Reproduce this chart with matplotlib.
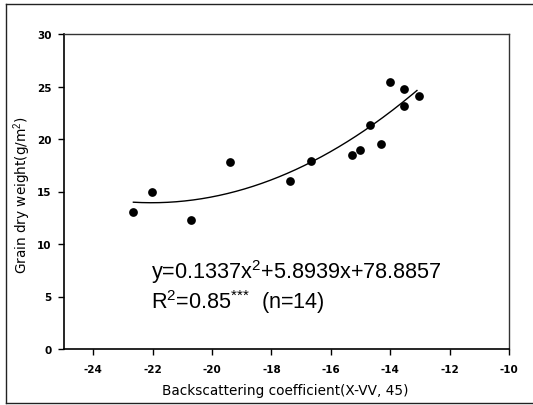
import matplotlib
matplotlib.use("Agg")
import matplotlib.pyplot as plt
import matplotlib.transforms as mtrans
import numpy as np
from matplotlib.lines import Line2D

plt.rcParams['font.family'] = ['Liberation Sans', 'DejaVu Sans']
plt.rcParams['mathtext.fontset'] = 'custom'
plt.rcParams['mathtext.rm'] = 'Liberation Sans'
plt.rcParams['mathtext.it'] = 'Liberation Sans'

# Data
backscatter = [-22.66, -22.03, -20.72, -19.40, -17.39, -16.66, -15.30,
               -15.01, -14.69, -14.30, -14.01, -13.53, -13.53, -13.02]
grain_weight = [13.06, 14.97, 12.30, 17.83, 16.02, 17.86, 18.47,
                18.94, 21.36, 19.54, 25.42, 24.73, 23.11, 24.06]

# Fitted quadratic reported in the chart
coef_a, coef_b, coef_c = 0.1337, 5.8939, 78.8857
fit_range = (-22.65, -13.1)

x_ticks = [-24, -22, -20, -18, -16, -14, -12, -10]
y_ticks = [0, 5, 10, 15, 20, 25, 30]

W, H = 533, 406
L, R, T, B = 63.6, 509.0, 35.0, 350.0
fig = plt.figure(figsize=(W / 100, H / 100), dpi=100)
ax = fig.add_axes([L / W, (H - B) / H, (R - L) / W, (B - T) / H])

ax.scatter(backscatter, grain_weight, s=6.3 ** 2, color='black', zorder=3, linewidths=0)
xf = np.linspace(fit_range[0], fit_range[1], 200)
ax.plot(xf, coef_a * xf ** 2 + coef_b * xf + coef_c, color='black', lw=1.0)

ax.set_xlim(-25, -10)
ax.set_ylim(0, 30)
ax.set_xticks(x_ticks)
ax.set_yticks(y_ticks)
tick_font = dict(fontsize=7.5, fontweight='bold', family='DejaVu Sans')
ax.set_xticklabels([str(t) for t in x_ticks], **tick_font)
ax.set_yticklabels([str(t) for t in y_ticks], **tick_font)
ax.tick_params(axis='x', direction='out', length=4, width=1.0, pad=7, colors='black')
ax.tick_params(axis='y', direction='out', length=4, width=1.0, pad=4.5, colors='black')

for s in ['left', 'bottom']:
    ax.spines[s].set_linewidth(1.2)
    ax.spines[s].set_color('black')
for s in ['top', 'right']:
    ax.spines[s].set_linewidth(1.0)
    ax.spines[s].set_color('#333333')

ax.set_xlabel('Backscattering coefficient(X-VV, 45)', fontsize=9.8,
              family=['DejaVu Sans'], va='center')
ax.xaxis.set_label_coords((285 - L) / (R - L), -(391 - B) / (B - T))
ax.set_ylabel('Grain dry weight(g/m$^2$)', fontsize=9.8,
              family=['DejaVu Sans'], va='center')
ax.yaxis.set_label_coords(-(L - 22) / (R - L), (B - 195) / (B - T))

pix = mtrans.Affine2D().scale(1, -1).translate(0, H)
t1 = fig.text(151, 272, r'y=0.1337x$^2$+5.8939x+78.8857', fontsize=15.6,
              va='center', ha='left')
t1.set_transform(pix)
t2 = fig.text(151, 302, r'R$^2$=0.85$^{{*}{*}{*}}$  (n=14)', fontsize=15.6,
              va='center', ha='left')
t2.set_transform(pix)

# outer frame
for (x0, y0, x1, y1) in [(6, 5, 540, 5), (6, 5, 6, 404), (6, 404, 540, 404)]:
    fig.add_artist(Line2D([x0 / W, x1 / W], [1 - y0 / H, 1 - y1 / H],
                          transform=fig.transFigure, color='#222222', lw=1.0))

fig.savefig('out.png', dpi=100)
